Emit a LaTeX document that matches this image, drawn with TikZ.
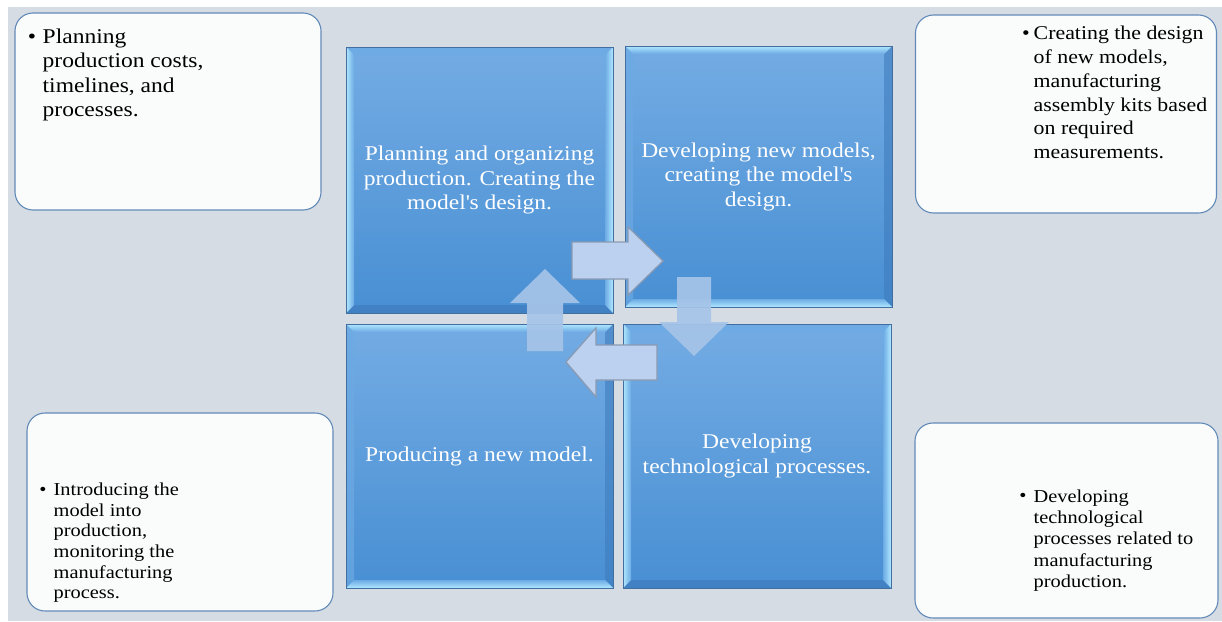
\documentclass[tikz,border=0pt]{standalone}
\usepackage{fontspec}
\setmainfont{Liberation Serif}[FakeStretch=1.12]
\usetikzlibrary{calc}

\definecolor{pagebg}{RGB}{214,220,228}
\definecolor{cardfill}{RGB}{250,252,252}
\definecolor{cardline}{RGB}{98,138,184}
\definecolor{sqtop}{RGB}{116,172,228}
\definecolor{sqbot}{RGB}{72,143,211}
\definecolor{sqline}{RGB}{66,110,160}
\definecolor{bevbright}{RGB}{176,232,255}
\definecolor{bevmid}{RGB}{108,170,228}
\definecolor{bevdark}{RGB}{62,124,190}
\definecolor{arrfill}{RGB}{188,209,239}
\definecolor{arrline}{RGB}{138,154,178}
\definecolor{arrsoft}{RGB}{166,196,232}

\newcommand{\bw}{8}

\tikzset{
  card/.style={draw=cardline, line width=1.1pt, fill=cardfill, rounded corners=18pt, inner sep=0pt},
  cardtext/.style={anchor=north west, inner sep=0pt, align=left, text=black},
  dot/.style={anchor=base, inner sep=0pt, text=black},
  block/.style={draw=sqline, line width=0.8pt, top color=sqtop, bottom color=sqbot,
    inner sep=0pt, text=white, align=center,
    font=\fontsize{21}{24.5}\selectfont},
  % light strips on the left and right edges
  bevelv/.style={path picture={
    \coordinate (nw) at (path picture bounding box.north west);
    \coordinate (ne) at (path picture bounding box.north east);
    \coordinate (sw) at (path picture bounding box.south west);
    \coordinate (se) at (path picture bounding box.south east);
    \fill[bevmid, opacity=0.7] (nw) -- (ne) -- ($(ne)+(-\bw,\bw)$) -- ($(nw)+(\bw,\bw)$) -- cycle;
    \fill[bevdark, opacity=0.7] (sw) -- (se) -- ($(se)+(-\bw,-\bw)$) -- ($(sw)+(\bw,-\bw)$) -- cycle;
    \shade[left color=bevbright, right color=bevmid] (nw) -- ($(nw)+(\bw,\bw)$) -- ($(sw)+(\bw,-\bw)$) -- (sw) -- cycle;
    \shade[left color=bevmid, right color=bevbright] (ne) -- ($(ne)+(-\bw,\bw)$) -- ($(se)+(-\bw,-\bw)$) -- (se) -- cycle;
  }},
  % light strips on the top and bottom edges
  bevelh/.style={path picture={
    \coordinate (nw) at (path picture bounding box.north west);
    \coordinate (ne) at (path picture bounding box.north east);
    \coordinate (sw) at (path picture bounding box.south west);
    \coordinate (se) at (path picture bounding box.south east);
    \fill[bevmid, opacity=0.7] (nw) -- ($(nw)+(\bw,\bw)$) -- ($(sw)+(\bw,-\bw)$) -- (sw) -- cycle;
    \fill[bevdark, opacity=0.6] (ne) -- ($(ne)+(-\bw,\bw)$) -- ($(se)+(-\bw,-\bw)$) -- (se) -- cycle;
    \shade[top color=bevbright, bottom color=bevmid] (nw) -- (ne) -- ($(ne)+(-\bw,\bw)$) -- ($(nw)+(\bw,\bw)$) -- cycle;
    \shade[top color=bevmid, bottom color=bevbright] (sw) -- (se) -- ($(se)+(-\bw,-\bw)$) -- ($(sw)+(\bw,-\bw)$) -- cycle;
  }},
  flatarrow/.style={fill=arrfill, draw=arrline, line width=1.2pt, line join=miter},
  softarrow/.style={fill=arrsoft, fill opacity=0.92}
}

\begin{document}
\begin{tikzpicture}[x=1pt, y=-1pt]
  \useasboundingbox (0,0) rectangle (1222,621);
  \fill[white] (0,0) rectangle (1222,621);
  \fill[pagebg] (8,7) rectangle (1222,621);

  % outer cards
  \node[card, minimum width=306pt, minimum height=197pt] (c1) at (168,111.5) {};
  \node[card, minimum width=301pt, minimum height=198pt] (c2) at (1066,114) {};
  \node[card, minimum width=306pt, minimum height=198pt] (c3) at (180,512) {};
  \node[card, minimum width=303pt, minimum height=195pt] (c4) at (1066.5,520.5) {};

  \node[cardtext, font=\fontsize{21}{24.5}\selectfont] (t1) at (42.5,28.7)
    {Planning\\production costs,\\timelines, and\\processes.};
  \node[dot, font=\fontsize{21}{24.5}\selectfont] (b1) at (32,43) {\textbullet};

  \node[cardtext, font=\fontsize{19.5}{23.8}\selectfont] (t2) at (1033.5,26)
    {Creating the design\\of new models,\\manufacturing\\assembly kits based\\on required\\measurements.};
  \node[dot, font=\fontsize{19.5}{23.8}\selectfont] (b2) at (1026,39.3) {\textbullet};

  \node[cardtext, font=\fontsize{18.2}{20.7}\selectfont] (t3) at (53.5,482.6)
    {Introducing the\\model into\\production,\\monitoring the\\manufacturing\\process.};
  \node[dot, font=\fontsize{18.2}{20.7}\selectfont] (b3) at (43,495) {\textbullet};

  \node[cardtext, font=\fontsize{18.2}{21.3}\selectfont] (t4) at (1033.5,489.3)
    {Developing\\technological\\processes related to\\manufacturing\\production.};
  \node[dot, font=\fontsize{18.2}{21.3}\selectfont] (b4) at (1023,501.7) {\textbullet};

  % four stage blocks
  \node[block, bevelv, minimum width=267pt, minimum height=266pt] (s1) at (479.5,180)
    {Planning and organizing\\production. Creating the\\model\textquotesingle s design.};
  \node[block, bevelh, minimum width=267pt, minimum height=261pt] (s2) at (758.5,176.5)
    {Developing new models,\\creating the model\textquotesingle s\\design.};
  \node[block, bevelh, minimum width=267pt, minimum height=264pt] (s3) at (479.5,456)
    {Producing a new model.};
  \node[block, bevelv, minimum width=268pt, minimum height=264pt] (s4) at (757,456)
    {Developing\\technological processes.};

  % cycle arrows between the blocks
  \fill[softarrow] (527,351) -- (527,303) -- (510,303) -- (545,269) -- (580,303)
    -- (563,303) -- (563,351) -- cycle;
  \fill[softarrow] (677,277) -- (711,277) -- (711,322) -- (729,322) -- (694,356)
    -- (659,322) -- (677,322) -- cycle;
  \filldraw[flatarrow] (572,242) -- (628,242) -- (628,227) -- (663,261) -- (628,295)
    -- (628,279) -- (572,279) -- cycle;
  \filldraw[flatarrow] (657,345) -- (596,345) -- (596,328) -- (566,362) -- (596,397)
    -- (596,380) -- (657,380) -- cycle;
\end{tikzpicture}
\end{document}
